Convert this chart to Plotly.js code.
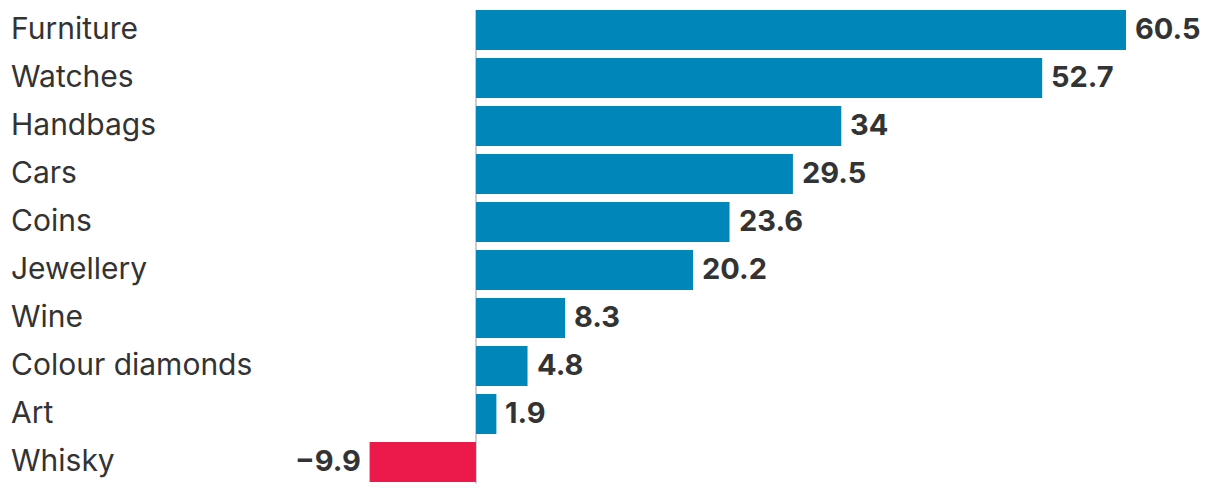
<!DOCTYPE html>
<html>
<head>
<meta charset="utf-8">
<script src="https://cdn.plot.ly/plotly-3.0.1.min.js"></script>
<style>
html,body{margin:0;padding:0;background:#fff;}
#chart{width:1220px;height:492px;}
</style>
</head>
<body>
<div id="chart"></div>
<script>
const categories = ["Furniture","Watches","Handbags","Cars","Coins","Jewellery","Wine","Colour diamonds","Art","Whisky"];
const values = [60.5, 52.7, 34, 29.5, 23.6, 20.2, 8.3, 4.8, 1.9, -9.9];
const valueLabels = ["60.5","52.7","34","29.5","23.6","20.2","8.3","4.8","1.9","\u22129.9"];

const BLUE = "#0086b8", RED = "#ec1a4b", TEXT = "#333333";
const FONT = "Inter, Roboto, sans-serif";

const colors = values.map(v => v < 0 ? RED : BLUE);

const trace = {
  type: "bar",
  orientation: "h",
  x: values,
  y: categories,
  marker: {color: colors, line: {width: 0}},
  hoverinfo: "skip"
};

const annotations = [];
categories.forEach((c, i) => {
  annotations.push({
    xref: "paper", yref: "y", x: 9/1220, y: c, yshift: 2,
    text: c, showarrow: false, xanchor: "left", yanchor: "middle",
    font: {family: FONT, size: 30, color: TEXT}
  });
  const neg = values[i] < 0;
  annotations.push({
    xref: "x", yref: "y", x: values[i], y: c, yshift: 2,
    text: "<b>" + valueLabels[i] + "</b>", showarrow: false,
    xanchor: neg ? "right" : "left", yanchor: "middle",
    xshift: neg ? -7 : 7,
    font: {family: FONT, size: 29, color: TEXT}
  });
});

const layout = {
  width: 1220, height: 492,
  margin: {l: 0, r: 0, t: 6, b: 6, pad: 0},
  paper_bgcolor: "#fff", plot_bgcolor: "#fff",
  bargap: 8/48,
  showlegend: false,
  xaxis: {range: [-44.30, 69.25], showgrid: false, zeroline: false, showticklabels: false, ticks: "", fixedrange: true},
  yaxis: {type: "category", range: [9.5, -0.5], showgrid: false, zeroline: false, showticklabels: false, ticks: "", fixedrange: true},
  shapes: [{type: "line", xref: "x", yref: "y", x0: 0, x1: 0, y0: -0.4167, y1: 9.45, layer: "below", line: {color: "#cccccc", width: 2}}],
  annotations: annotations
};

Plotly.newPlot("chart", [trace], layout, {displayModeBar: false, staticPlot: true});
</script>
</body>
</html>
